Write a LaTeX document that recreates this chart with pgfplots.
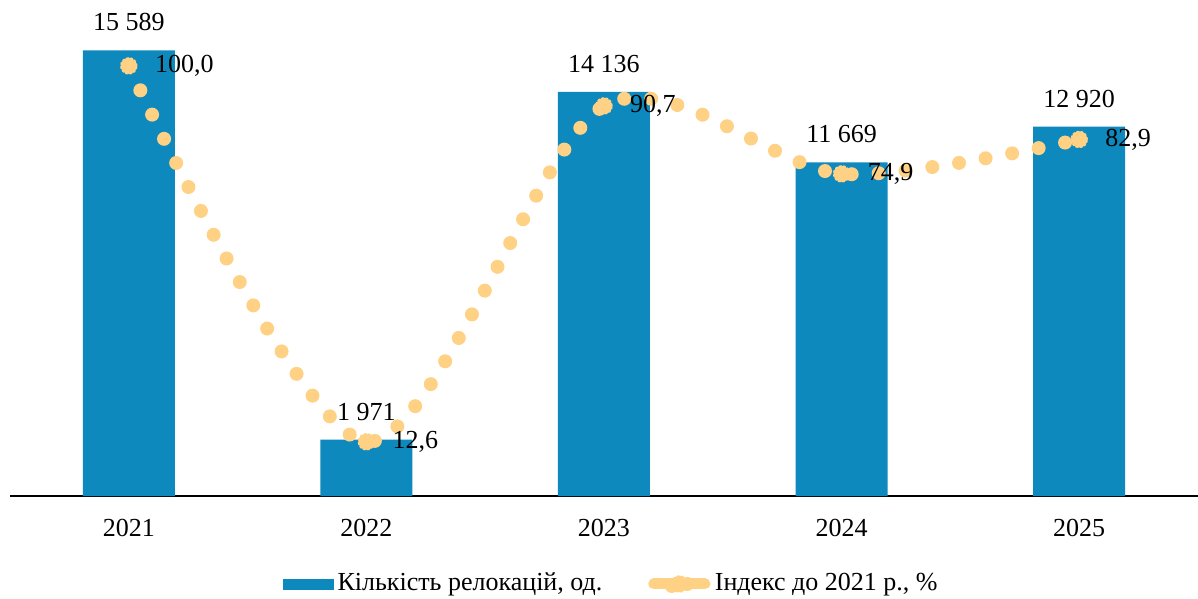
\documentclass[border=0pt]{standalone}
\usepackage{fontspec}
\setmainfont{Liberation Serif}
\usepackage{pgfplots}
\pgfplotsset{compat=1.18}
\definecolor{barblue}{RGB}{14,137,190}
\definecolor{peach}{RGB}{255,209,132}
\begin{document}
\fontsize{26}{30}\selectfont
\begin{tikzpicture}
\path[use as bounding box] (-10pt,-102pt) rectangle (1188pt,496pt);
\begin{axis}[
  scale only axis, width=1188pt, height=486pt,
  at={(0pt,0pt)}, anchor=south west,
  xmin=-0.5, xmax=4.5, ymin=0, ymax=17000,
  axis y line=none, axis x line*=bottom,
  x axis line style={line width=1.8pt, -},
  xtick={0,1,2,3,4}, xticklabels={2021,2022,2023,2024,2025},
  major tick length=0pt,
  xticklabel style={yshift=-14pt, font=\fontsize{26}{30}\selectfont},
  ybar, bar width=92pt,
  point meta=explicit symbolic,
  nodes near coords,
  every node near coord/.append style={font=\fontsize{26}{30}\selectfont, text=black, anchor=south, inner sep=0pt, yshift=19pt},
]
\addplot[fill=barblue, draw=none] coordinates {
 (0,15589) [15 589]
 (1,1971) [1 971]
 (2,14136) [14 136]
 (3,11669) [11 669]
 (4,12920) [12 920]
};
\end{axis}
\begin{axis}[
  scale only axis, width=1188pt, height=486pt,
  at={(0pt,0pt)}, anchor=south west,
  xmin=-0.5, xmax=4.5, ymin=0, ymax=113.0,
  axis lines=none,
  point meta=explicit symbolic,
  nodes near coords,
  every node near coord/.append style={font=\fontsize{26}{30}\selectfont, text=black, anchor=west, inner sep=0pt, xshift=25pt, yshift=0pt},
  legend style={draw=none, fill=none, at={(0.506,-0.181)}, anchor=center, legend columns=2, inner sep=0pt,
    font=\fontsize{26}{30}\selectfont,
    /tikz/every odd column/.append style={column sep=2.5pt},
    /tikz/every even column/.append style={column sep=44pt}},
  legend cell align=left,
]
\addlegendimage{legend image code/.code={\fill[barblue] (0pt,-5pt) rectangle (50pt,5pt);}}
\addlegendentry{Кількість релокацій, од.}
\addplot[smooth, color=peach, line width=14pt, line cap=round, dash pattern=on 0pt off 27pt,
  mark=*, mark size=7.5pt,
  mark options={solid, fill=peach, draw=peach, line width=2.5pt, dash pattern=on 2pt off 2pt},
  legend image code/.code={\draw[peach, line width=11pt, line cap=round, solid] (5.5pt,0pt) -- (56.5pt,0pt);
    \fill[peach] (31pt,0pt) circle (8pt);
    \draw[peach, line width=2.5pt, dash pattern=on 2pt off 2pt] (31pt,0pt) circle (7.5pt);}
] coordinates {
 (0,100.0) [100,0]
 (1,12.6) [12,6]
 (2,90.7) [90,7]
 (3,74.9) [74,9]
 (4,82.9) [82,9]
};
\addlegendentry{Індекс до 2021 р., \%}
\end{axis}
\end{tikzpicture}
\end{document}
